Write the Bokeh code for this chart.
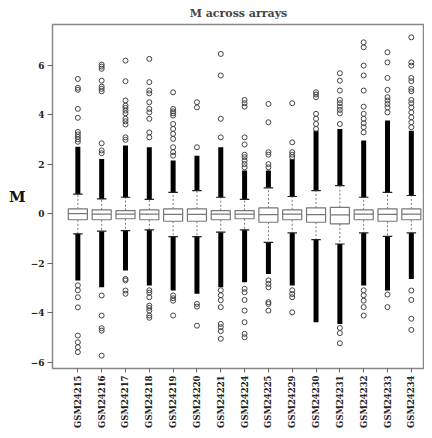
import math
from bokeh.plotting import figure
from bokeh.models import FixedTicker, Title, ColumnDataSource
from bokeh.embed import file_html
from bokeh.resources import INLINE

arrays = ["GSM24215", "GSM24216", "GSM24217", "GSM24218", "GSM24219", "GSM24220",
          "GSM24221", "GSM24224", "GSM24225", "GSM24229", "GSM24230", "GSM24231",
          "GSM24232", "GSM24233", "GSM24234"]
q1 = [-0.25, -0.25, -0.21, -0.25, -0.31, -0.31, -0.25, -0.21, -0.35, -0.25, -0.35, -0.42, -0.25, -0.31, -0.25]
median = [0.0, -0.02, -0.02, -0.02, -0.03, -0.03, -0.02, -0.02, -0.04, -0.02, -0.04, -0.05, -0.02, -0.03, -0.02]
q3 = [0.19, 0.15, 0.12, 0.15, 0.19, 0.19, 0.12, 0.12, 0.23, 0.15, 0.23, 0.25, 0.15, 0.19, 0.19]
whisker_low = [-0.82, -0.71, -0.69, -0.66, -0.93, -0.93, -0.75, -0.66, -1.16, -0.78, -1.05, -1.23, -0.78, -0.92, -0.78]
whisker_high = [0.79, 0.59, 0.66, 0.57, 0.86, 0.93, 0.66, 0.57, 1.04, 0.69, 0.93, 1.13, 0.66, 0.86, 0.73]
dense_high = [2.7, 2.21, 2.75, 2.68, 2.14, 2.34, 2.68, 1.74, 1.74, 2.21, 3.35, 3.42, 2.95, 3.76, 3.35]
dense_low = [-2.7, -2.98, -2.3, -2.91, -3.11, -3.24, -2.98, -2.77, -2.44, -2.91, -4.39, -4.46, -2.91, -3.11, -2.64]
outliers_high = [
    [5.44, 5.08, 5.0, 4.23, 3.87, 3.3, 3.2, 3.1, 3.0, 2.9],
    [6.02, 5.94, 5.85, 5.37, 5.13, 5.04, 4.94, 2.84, 2.55, 2.44],
    [6.18, 5.35, 4.57, 4.36, 4.27, 4.16, 4.05, 3.83, 3.73, 3.6, 3.08, 2.98],
    [6.25, 5.31, 4.97, 4.86, 4.5, 4.23, 4.09, 3.83, 3.28, 3.08],
    [4.9, 4.23, 4.13, 4.05, 3.96, 3.62, 3.42, 3.22, 3.02, 2.68, 2.48, 2.34],
    [4.5, 4.29, 2.68],
    [6.45, 5.58, 3.83, 3.08],
    [4.59, 4.46, 4.32, 3.08, 2.79, 2.38, 2.28, 2.14, 2.0, 1.87],
    [4.43, 3.69, 2.48, 2.38, 2.0, 1.87],
    [4.46, 2.88, 2.48, 2.38, 2.28],
    [4.9, 4.81, 4.7, 4.03, 3.83, 3.62, 3.42],
    [5.67, 5.37, 4.97, 4.59, 4.46, 4.32, 4.19, 4.05, 3.62],
    [6.92, 6.72, 5.98, 5.58, 4.97, 4.32, 4.03, 3.83, 3.65, 3.49, 3.28],
    [6.52, 6.11, 5.48, 5.0, 4.7, 4.57, 4.43, 4.29, 4.09],
    [7.12, 6.11, 5.98, 5.48, 5.35, 5.04, 4.94, 4.59, 4.46, 4.29, 4.09, 3.89, 3.69, 3.49],
]
outliers_low = [
    [-2.9, -3.1, -3.38, -3.79, -4.93, -5.2, -5.4, -5.6],
    [-3.31, -4.12, -4.63, -4.73, -5.74],
    [-2.64, -2.7, -3.11, -3.24],
    [-3.1, -3.2, -3.38, -3.72, -3.81, -3.92, -4.12, -4.21],
    [-3.31, -3.42, -3.52, -4.12],
    [-3.65, -3.76, -4.53],
    [-3.1, -3.3, -3.5, -3.78, -4.46, -4.59, -4.75, -5.06],
    [-3.04, -3.18, -3.49, -3.92, -4.39, -4.86, -5.0],
    [-2.7, -2.84, -2.98, -3.58, -3.65, -3.92],
    [-3.1, -3.25, -3.38, -3.99],
    [],
    [-4.62, -4.83, -5.24],
    [-3.1, -3.3, -3.52, -3.78, -4.12],
    [-3.27, -3.78],
    [-3.11, -3.49, -4.25, -4.7],
]
y_ticks = [-6, -4, -2, 0, 2, 4, 6]

FONT = "DejaVu Serif"
xs = list(range(1, len(arrays) + 1))
box_w = 0.8
staple_w = 0.4

p = figure(width=424, height=430, output_backend="svg", toolbar_location=None,
           x_range=(-0.064, 15.553), y_range=(-6.26, 7.64),
           min_border_left=52, min_border_right=0, min_border_top=23, min_border_bottom=60)
p.title = Title(text="M across arrays", align="center", text_font=FONT,
                text_font_size="11px", text_font_style="bold", standoff=9, offset=0)
p.grid.visible = False
p.outline_line_color = "#888888"
p.outline_line_width = 1.5
p.background_fill_color = "white"
p.border_fill_color = "white"

src = ColumnDataSource(dict(x=xs, q1=q1, q3=q3, med=median, wl=whisker_low, wh=whisker_high,
                            dh=dense_high, dl=dense_low,
                            xl=[x - box_w / 2 for x in xs], xr=[x + box_w / 2 for x in xs],
                            sl=[x - staple_w / 2 for x in xs], sr=[x + staple_w / 2 for x in xs]))
# whiskers (dashed)
p.segment(x0="x", y0="q3", x1="x", y1="wh", source=src, line_color="#777777", line_dash="2 2", line_width=1)
p.segment(x0="x", y0="q1", x1="x", y1="wl", source=src, line_color="#777777", line_dash="2 2", line_width=1)
# dense outlier bands
p.segment(x0="x", y0="wh", x1="x", y1="dh", source=src, line_color="black", line_width=5)
p.segment(x0="x", y0="wl", x1="x", y1="dl", source=src, line_color="black", line_width=5)
# staples
p.segment(x0="sl", y0="wh", x1="sr", y1="wh", source=src, line_color="#222222", line_width=1.2)
p.segment(x0="sl", y0="wl", x1="sr", y1="wl", source=src, line_color="#222222", line_width=1.2)
# boxes
p.quad(left="xl", right="xr", bottom="q1", top="q3", source=src,
       fill_color="white", line_color="#777777", line_width=1.2)
p.segment(x0="xl", y0="med", x1="xr", y1="med", source=src, line_color="#777777", line_width=1.2)

# individual outliers
ox, oy = [], []
for i, x in enumerate(xs):
    for v in outliers_high[i] + outliers_low[i]:
        ox.append(x)
        oy.append(v)
p.scatter(ox, oy, marker="circle", size=5, fill_color=None, line_color="#444444", line_width=1)

# axes
p.xaxis.ticker = FixedTicker(ticks=xs)
p.xaxis.major_label_overrides = {x: a for x, a in zip(xs, arrays)}
p.xaxis.major_label_orientation = math.pi / 2
p.yaxis.ticker = FixedTicker(ticks=y_ticks)
for ax in (p.xaxis[0], p.yaxis[0]):
    ax.axis_line_color = None
    ax.major_tick_line_color = "#666666"
    ax.major_tick_out = 5
    ax.major_tick_in = 0
    ax.minor_tick_line_color = None
    ax.major_label_text_font = FONT
    ax.major_label_text_font_style = "bold"
    ax.major_label_text_color = "#222222"
    ax.major_label_standoff = 3
p.yaxis.major_label_text_font_size = "9px"
p.xaxis.major_label_text_font_size = "8.5px"
p.xaxis.major_label_standoff = 3
p.xaxis.major_tick_out = 4
p.yaxis.axis_label = "M"
p.yaxis.axis_label_text_font = FONT
p.yaxis.axis_label_text_font_style = "bold"
p.yaxis.axis_label_text_font_size = "15px"
p.yaxis.axis_label_text_color = "#111111"
p.yaxis.axis_label_orientation = "horizontal"
p.yaxis.axis_label_standoff = 2

open("out.html", "w").write(file_html(p, INLINE))
